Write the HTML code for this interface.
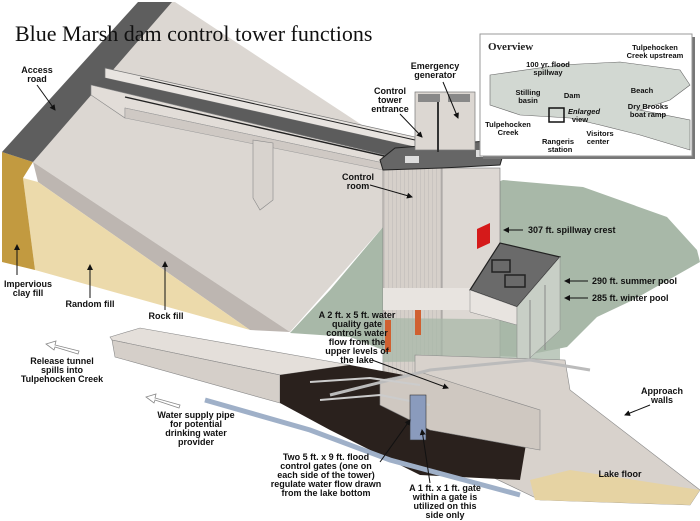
<!DOCTYPE html>
<html><head><meta charset="utf-8"><style>
body{margin:0;background:#fff;}
svg{display:block;font-family:"Liberation Sans",Arial,sans-serif;}
.l{font-size:9px;font-weight:bold;fill:#111;text-anchor:middle;}
.s{font-size:9px;font-weight:bold;fill:#111;}
.o{font-size:7.5px;font-weight:bold;fill:#111;text-anchor:middle;}
</style></head><body>
<svg width="700" height="521" viewBox="0 0 700 521" xmlns="http://www.w3.org/2000/svg">
<defs><marker id="a" markerUnits="userSpaceOnUse" markerWidth="6" markerHeight="6" refX="5" refY="3" orient="auto"><path d="M0,0L6,3L0,6z" fill="#111"/></marker>
<pattern id="vs" width="4" height="10" patternUnits="userSpaceOnUse"><rect width="4" height="10" fill="#d6d0ca"/><line x1="0" y1="0" x2="0" y2="10" stroke="#aaa" stroke-width="0.6"/></pattern></defs>
<!-- dam -->
<path d="M140,2 L175,2 L400,150 L383,227 L290,332 L33,162 Z" fill="#dcd7d2"/>
<path d="M33,162 L290,332 L250,330 L38,182 Z" fill="#bdb6b1"/>
<path d="M23,178 L38,182 L250,330 L35,270 Z" fill="#ecdaab"/>
<path d="M2,152 L33,162 L23,178 L35,270 L2,262 Z" fill="#c29a40"/>
<path d="M138,2 L172,2 L33,162 L2,152 Z" fill="#5e5e5e"/>
<!-- water -->
<path d="M290,333 L330,290 L383,227 L503,180 L583,187 L667,217 L697,250 L700,262 L633,300 L597,317 L567,347 L517,357 L383,350 L350,337 Z" fill="#a8b8a8"/>
<!-- bridge -->
<path d="M105,68 L415,137 L415,147 L105,78 Z" fill="#e8e4e0" stroke="#777" stroke-width="0.7"/>
<path d="M91,85 L105,78 L415,147 L400,160 Z" fill="#5c5c5c"/>
<path d="M91,85 L393,157 L393,165 L125,108 L125,118 L91,95 Z" fill="#e2ddd8" stroke="#888" stroke-width="0.6"/>
<path d="M125,108 L393,165 L393,172 L125,118 Z" fill="#cfc9c4" stroke="#999" stroke-width="0.5"/>
<path d="M253,140 L273,143 L273,200 L260,210 L253,198 Z" fill="#d8d3ce" stroke="#888" stroke-width="0.6"/>
<line x1="140" y1="78" x2="415" y2="140" stroke="#222" stroke-width="1"/>
<line x1="125" y1="97" x2="393" y2="158" stroke="#222" stroke-width="1.4"/>
<!-- tower -->
<rect x="383" y="168" width="59" height="212" fill="url(#vs)" stroke="#777" stroke-width="0.6"/>
<rect x="442" y="168" width="58" height="212" fill="#ddd8d3" stroke="#777" stroke-width="0.6"/>
<rect x="383" y="288" width="117" height="22" fill="#e8e4e0"/>
<path d="M383,318 L560,320 L560,360 L383,362 Z" fill="#a8b8a8" opacity="0.75"/>
<path d="M380,160 L395,148 L500,140 L505,148 L500,165 L442,168 L383,170 Z" fill="#666" stroke="#222" stroke-width="1"/>
<rect x="415" y="92" width="60" height="58" fill="#dcd7d2" stroke="#777" stroke-width="0.7"/>
<rect x="418" y="94" width="22" height="8" fill="#888"/>
<rect x="448" y="94" width="22" height="8" fill="#888"/>
<line x1="438" y1="102" x2="438" y2="152" stroke="#333" stroke-width="2"/>
<rect x="405" y="156" width="14" height="7" fill="#ddd"/>
<rect x="476" y="150" width="14" height="7" fill="#ddd"/>
<path d="M477,229 L490,223 L490,243 L477,249 Z" fill="#d51a1a"/>
<!-- platform -->
<path d="M470,290 L500,243 L560,257 L517,307 Z" fill="#6a6a6a" stroke="#222" stroke-width="1.2"/>
<rect x="492" y="260" width="18" height="12" fill="none" stroke="#222" stroke-width="1.5"/>
<rect x="505" y="275" width="20" height="12" fill="none" stroke="#222" stroke-width="1.5"/>
<path d="M470,290 L517,307 L517,325 L470,312 Z" fill="#e8e4e0" stroke="#888" stroke-width="0.5"/>
<path d="M517,307 L560,257 L560,330 L517,370 Z" fill="#c8cfc6" stroke="#888" stroke-width="0.5"/>
<line x1="530" y1="300" x2="530" y2="360" stroke="#888"/><line x1="545" y1="285" x2="545" y2="350" stroke="#888"/>
<!-- intake structure -->
<path d="M415,355 L565,360 L570,390 L700,490 L690,505 L540,500 L415,440 Z" fill="#d8d2cc" stroke="#888" stroke-width="0.6"/>
<path d="M530,480 L570,470 L700,490 L690,505 L535,500 Z" fill="#e6d3a3"/>
<!-- tunnel -->
<path d="M110,337 L140,328 L350,365 L280,375 L112,340 Z" fill="#e4dfda" stroke="#888" stroke-width="0.6"/>
<path d="M112,340 L280,375 L280,403 L115,357 Z" fill="#d5cfc9" stroke="#888" stroke-width="0.6"/>
<path d="M280,375 L350,365 L420,378 L530,420 L520,480 L420,475 L330,430 L280,403 Z" fill="#2a211d"/>
<path d="M380,380 L420,372 L460,385 L540,410 L540,450 L430,430 L380,405 Z" fill="#cfc8c1" stroke="#888" stroke-width="0.6"/>
<path d="M330,395 L430,370 L530,360 L590,370" fill="none" stroke="#bbb" stroke-width="3"/>
<path d="M310,382 L370,378 L420,385" fill="none" stroke="#ccc" stroke-width="2"/>
<path d="M320,400 L380,395 L430,405" fill="none" stroke="#ccc" stroke-width="2"/>
<path d="M205,400 L310,430 L390,460 L520,495" fill="none" stroke="#9fb0c8" stroke-width="5"/>
<!-- hollow arrows -->
<path d="M79,351 L55,345 L56,341 L46,344 L54,350 L55,347 L78,354 Z" fill="#fff" stroke="#888" stroke-width="0.8"/>
<path d="M180,405 L155,398 L156,394 L146,397 L154,403 L155,400 L179,408 Z" fill="#fff" stroke="#888" stroke-width="0.8"/>
<rect x="410" y="395" width="16" height="45" fill="#8a9bbd" stroke="#333" stroke-width="0.6"/>
<rect x="385" y="320" width="6" height="32" fill="#d06030"/>
<rect x="415" y="310" width="6" height="25" fill="#d06030"/>
<!-- overview inset -->
<rect x="483" y="37" width="212" height="122" fill="#777"/>
<rect x="480" y="34" width="212" height="122" fill="#fff" stroke="#999"/>
<path d="M490,75 L560,65 L620,62 L680,70 L690,85 L670,100 L640,110 L690,120 L690,150 L640,135 L600,125 L570,118 L520,115 L490,105 Z" fill="#d2d8d2" stroke="#666" stroke-width="0.6"/>
<rect x="549" y="108" width="15" height="14" fill="none" stroke="#111" stroke-width="1.5"/>
<text x="488" y="50" font-family="Liberation Serif,serif" font-size="11" font-weight="bold" fill="#222">Overview</text>
<text class="o" x="548" y="67">100 yr. flood</text><text class="o" x="548" y="75">spillway</text>
<text class="o" x="528" y="95">Stilling</text><text class="o" x="528" y="103">basin</text>
<text class="o" x="572" y="98">Dam</text>
<text class="o" x="584" y="114" font-style="italic">Enlarged</text><text class="o" x="580" y="122">view</text>
<text class="o" x="508" y="127">Tulpehocken</text><text class="o" x="508" y="135">Creek</text>
<text class="o" x="600" y="136">Visitors</text><text class="o" x="598" y="144">center</text>
<text class="o" x="558" y="144">Rangeris</text><text class="o" x="560" y="152">station</text>
<text class="o" x="655" y="50">Tulpehocken</text><text class="o" x="655" y="58">Creek upstream</text>
<text class="o" x="642" y="93">Beach</text>
<text class="o" x="648" y="109">Dry Brooks</text><text class="o" x="648" y="117">boat ramp</text>
<text x="15" y="41" font-family="Liberation Serif,serif" font-size="22" fill="#111">Blue Marsh dam control tower functions</text>
<text class="l" x="37" y="73">Access</text><text class="l" x="37" y="82">road</text>
<line x1="37" y1="85" x2="55" y2="110" stroke="#111" marker-end="url(#a)"/>
<text class="l" x="435" y="69">Emergency</text><text class="l" x="435" y="78">generator</text>
<line x1="443" y1="82" x2="458" y2="118" stroke="#111" marker-end="url(#a)"/>
<text class="l" x="390" y="94">Control</text><text class="l" x="390" y="103">tower</text><text class="l" x="390" y="112">entrance</text>
<line x1="400" y1="114" x2="422" y2="137" stroke="#111" marker-end="url(#a)"/>
<text class="l" x="358" y="180">Control</text><text class="l" x="358" y="189">room</text>
<line x1="370" y1="185" x2="412" y2="197" stroke="#111" marker-end="url(#a)"/>
<text class="l" x="28" y="287">Impervious</text><text class="l" x="28" y="296">clay fill</text>
<line x1="17" y1="275" x2="17" y2="245" stroke="#111" marker-end="url(#a)"/>
<text class="l" x="90" y="307">Random fill</text>
<line x1="90" y1="298" x2="90" y2="265" stroke="#111" marker-end="url(#a)"/>
<text class="l" x="166" y="319">Rock fill</text>
<line x1="165" y1="310" x2="165" y2="262" stroke="#111" marker-end="url(#a)"/>
<text class="s" x="528" y="233">307 ft. spillway crest</text>
<line x1="523" y1="230" x2="504" y2="230" stroke="#111" marker-end="url(#a)"/>
<text class="s" x="592" y="284">290 ft. summer pool</text>
<line x1="588" y1="281" x2="565" y2="281" stroke="#111" marker-end="url(#a)"/>
<text class="s" x="592" y="301">285 ft. winter pool</text>
<line x1="588" y1="298" x2="565" y2="298" stroke="#111" marker-end="url(#a)"/>
<text class="l" x="357" y="318">A 2 ft. x 5 ft. water</text><text class="l" x="357" y="327">quality gate</text><text class="l" x="357" y="336">controls water</text><text class="l" x="357" y="345">flow from the</text><text class="l" x="357" y="354">upper levels of</text><text class="l" x="357" y="363">the lake</text>
<line x1="372" y1="360" x2="448" y2="388" stroke="#111" marker-end="url(#a)"/>
<text class="l" x="62" y="364">Release tunnel</text><text class="l" x="62" y="373">spills into</text><text class="l" x="62" y="382">Tulpehocken Creek</text>
<text class="l" x="196" y="418">Water supply pipe</text><text class="l" x="196" y="427">for potential</text><text class="l" x="196" y="436">drinking water</text><text class="l" x="196" y="445">provider</text>
<text class="l" x="326" y="460">Two 5 ft. x 9 ft. flood</text><text class="l" x="326" y="469">control gates (one on</text><text class="l" x="326" y="478">each side of the tower)</text><text class="l" x="326" y="487">regulate water flow drawn</text><text class="l" x="326" y="496">from the lake bottom</text>
<line x1="380" y1="462" x2="410" y2="420" stroke="#111" marker-end="url(#a)"/>
<text class="l" x="445" y="491">A 1 ft. x 1  ft. gate</text><text class="l" x="445" y="500">within a gate is</text><text class="l" x="445" y="509">utilized on this</text><text class="l" x="445" y="518">side only</text>
<line x1="430" y1="483" x2="422" y2="430" stroke="#111" marker-end="url(#a)"/>
<text class="l" x="662" y="394">Approach</text><text class="l" x="662" y="403">walls</text>
<line x1="650" y1="405" x2="625" y2="415" stroke="#111" marker-end="url(#a)"/>
<text class="l" x="620" y="477">Lake floor</text>
</svg>
</body></html>
